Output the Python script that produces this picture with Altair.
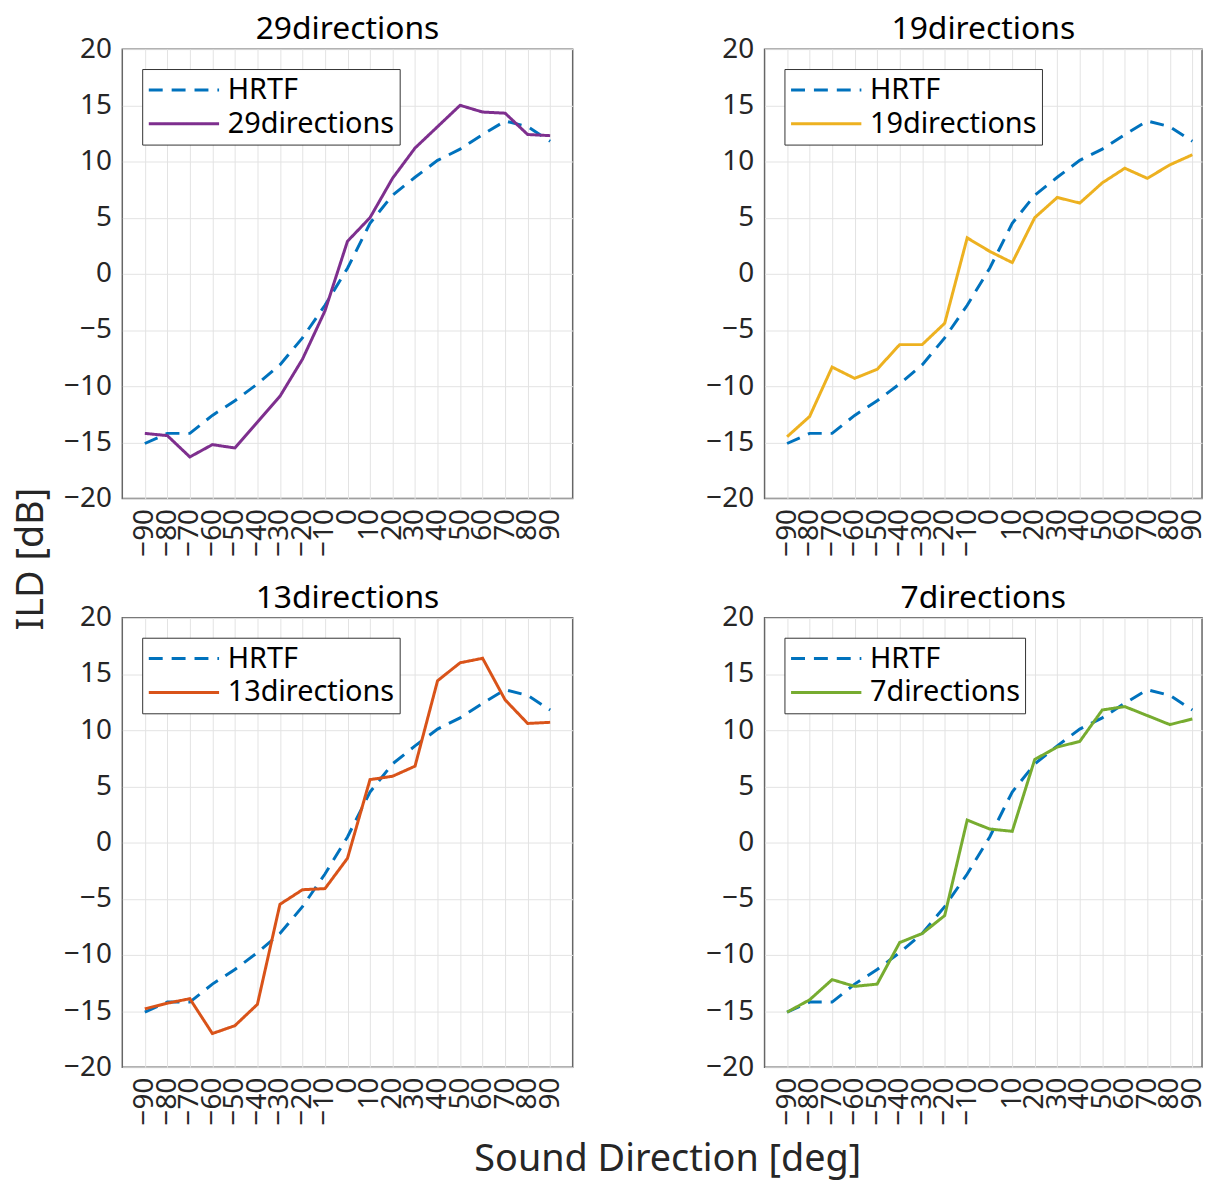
import altair as alt
import pandas as pd

angles = [-90, -80, -70, -60, -50, -40, -30, -20, -10, 0, 10, 20, 30, 40, 50, 60, 70, 80, 90]
hrtf = [-15.1, -14.2, -14.2, -12.6, -11.3, -9.8, -8.1, -5.7, -2.8, 0.5, 4.5, 7.0, 8.6, 10.1, 11.1, 12.4, 13.6, 13.1, 11.8]
dir29 = [-14.2, -14.4, -16.3, -15.2, -15.5, -13.2, -10.9, -7.6, -3.3, 2.9, 5.0, 8.5, 11.2, 13.1, 15.0, 14.4, 14.3, 12.4, 12.3]
dir19 = [-14.5, -12.7, -8.3, -9.3, -8.5, -6.3, -6.3, -4.4, 3.2, 2.0, 1.0, 5.0, 6.8, 6.3, 8.1, 9.4, 8.5, 9.7, 10.6]
dir13 = [-14.8, -14.3, -13.9, -17.0, -16.3, -14.4, -5.5, -4.2, -4.1, -1.4, 5.6, 5.9, 6.8, 14.4, 16.0, 16.4, 12.7, 10.6, 10.7]
dir7 = [-15.1, -14.0, -12.2, -12.8, -12.6, -8.9, -8.1, -6.5, 2.0, 1.2, 1.0, 7.4, 8.5, 9.0, 11.8, 12.1, 11.3, 10.5, 11.0]

names = ["29directions", "19directions", "13directions", "7directions"]
colors = ["#7E2F8E", "#EDB120", "#D95319", "#77AC30"]
series = [dir29, dir19, dir13, dir7]
hrtf_color = "#0072BD"
yticks = [-20, -15, -10, -5, 0, 5, 10, 15, 20]

FONT = "Noto Sans"


def panel(name, vals, color, width, xmax):
    df_h = pd.DataFrame({"angle": angles, "value": hrtf, "series": "HRTF"})
    df_d = pd.DataFrame({"angle": angles, "value": vals, "series": name})
    dom = ["HRTF", name]
    x = alt.X("angle:Q",
              scale=alt.Scale(domain=[-100, xmax], nice=False, zero=False),
              axis=alt.Axis(values=angles, labelAngle=270, title=None,
                            labelOverlap=False, labelFlush=False, labelPadding=10))
    y = alt.Y("value:Q",
              scale=alt.Scale(domain=[-20, 20], nice=False),
              axis=alt.Axis(values=yticks, title=None, labelPadding=11))
    color_enc = alt.Color("series:N", scale=alt.Scale(domain=dom, range=[hrtf_color, color]),
                          legend=alt.Legend(title=None))
    dash_enc = alt.StrokeDash("series:N", scale=alt.Scale(domain=dom, range=[[14, 9], [1, 0]]),
                              legend=alt.Legend(title=None))
    l1 = alt.Chart(df_h).mark_line(strokeWidth=3).encode(x=x, y=y, color=color_enc, strokeDash=dash_enc)
    l2 = alt.Chart(df_d).mark_line(strokeWidth=3).encode(x=x, y=y, color=color_enc, strokeDash=dash_enc)
    return alt.layer(l1, l2).properties(
        width=width, height=452,
        title=alt.TitleParams(name, fontSize=32, font=FONT, fontWeight="normal", color="#000",
                              offset=-11, anchor="middle"))


p1 = panel(names[0], series[0], colors[0], 453, 100)
p2 = panel(names[1], series[1], colors[1], 440, 94.3)
p3 = panel(names[2], series[2], colors[2], 453, 100)
p4 = panel(names[3], series[3], colors[3], 440, 94.3)

row1 = alt.hconcat(p1, p2, spacing=132).resolve_scale(color="independent", strokeDash="independent")
row2 = alt.hconcat(p3, p4, spacing=132).resolve_scale(color="independent", strokeDash="independent")

inner = alt.vconcat(row1, row2, spacing=24,
                    title=alt.TitleParams("Sound Direction [deg]", orient="bottom", anchor="middle",
                                          fontSize=38, font=FONT, fontWeight="normal",
                                          color="#262626", offset=16, dx=33))
inner = inner.resolve_scale(color="independent", strokeDash="independent")

chart = alt.hconcat(inner,
                    title=alt.TitleParams("ILD [dB]", orient="left", anchor="middle", fontSize=38,
                                          font=FONT, fontWeight="normal", color="#262626",
                                          offset=12, dx=37)
                    ).resolve_scale(color="independent", strokeDash="independent").properties(
    padding={"left": 13, "top": 9, "right": 0, "bottom": 0}
).configure_axis(
    labelFont=FONT, labelFontSize=28, labelColor="#262626", grid=True, gridColor="#e3e3e3",
    gridWidth=1, domain=False, ticks=False
).configure_view(
    stroke="#666666", strokeWidth=1.5
).configure_legend(
    orient="top-left", offset=20, strokeColor="#333333", fillColor="white", padding=5,
    labelFont=FONT, labelFontSize=29, labelColor="#000000", symbolType="stroke",
    symbolSize=5000, symbolStrokeWidth=3, labelOffset=7, rowPadding=2, clipHeight=32,
    labelLimit=0, cornerRadius=0
)

chart.save("out.html", embed_options={"renderer": "svg", "actions": False})
